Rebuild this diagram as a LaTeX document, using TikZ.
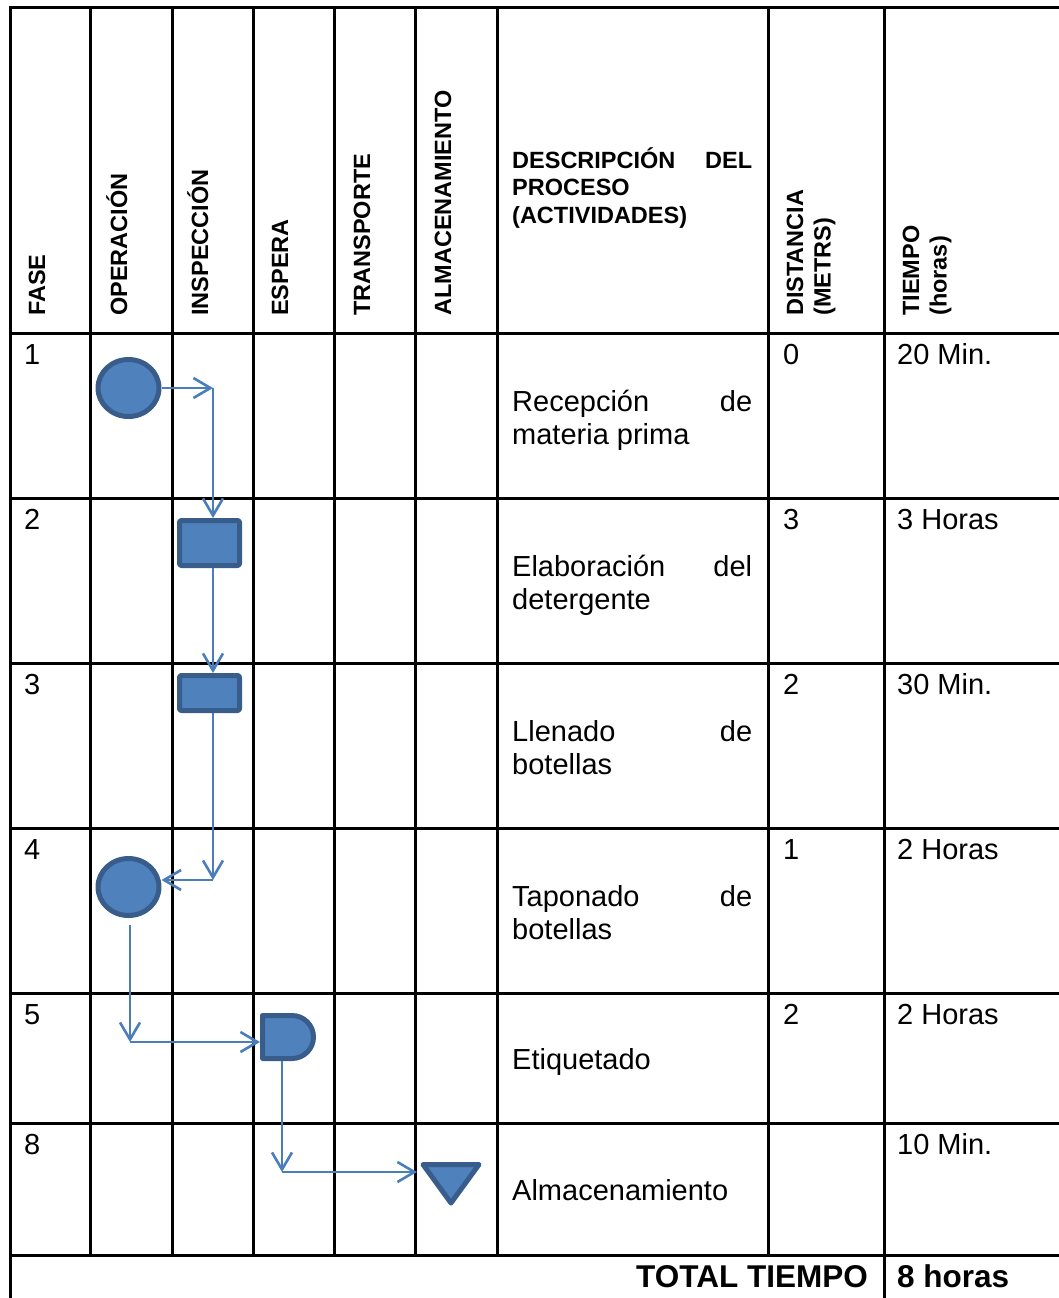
\documentclass[tikz,border=0pt]{standalone}
\usepackage{fontspec}
\setmainfont{Liberation Sans}
\usetikzlibrary{arrows.meta,shapes.geometric,shapes.misc}
\definecolor{FlowFill}{HTML}{4F81BD}
\definecolor{FlowEdge}{HTML}{385D8A}
\definecolor{FlowLine}{HTML}{4A7EBB}
\newcommand\BodyFont{\fontsize{29}{33}\selectfont}
\newcommand\HeadFont{\fontsize{23.5}{27.5}\selectfont\bfseries}
\newcommand\TotalFont{\fontsize{31.5}{36}\selectfont\bfseries}
\newcommand\JLine[3]{\hbox to #1{#2\hfill #3}}
% row index, row top, fase, distancia, tiempo
\newcommand\FaseRow[5]{%
    \node[cell] (fase#1) at (24,{#2+31}) {#3};
    \node[cell] (dist#1) at (783,{#2+31}) {#4};
    \node[cell] (time#1) at (897,{#2+31}) {#5};
}
\tikzset{
    tablerule/.style={line width=3pt, black},
    flowshape/.style={draw=FlowEdge, fill=FlowFill, line width=5pt, line join=round, inner sep=0pt},
    opcircle/.style={flowshape, ellipse, minimum width=61pt, minimum height=57pt},
    inbox/.style={flowshape, rectangle, rounded corners=2pt, minimum width=60pt},
    delaybox/.style={flowshape, rounded rectangle, rounded rectangle west arc=none,
        minimum width=51pt, minimum height=43pt},
    flow/.style={draw=FlowLine, line width=2.6pt, -{Straight Barb[length=17pt,width=20pt]}},
    cell/.style={anchor=base west, inner sep=0pt, font=\BodyFont},
    headtext/.style={anchor=base west, inner sep=0pt, rotate=90, font=\HeadFont},
}

\begin{document}
\begin{tikzpicture}[x=1pt,y=-1pt]
    \useasboundingbox (0,0) rectangle (1059,1298);
    % table
    \draw[tablerule] (10,1298) -- (10,8) -- (1059,8);
    \foreach \y in {333,498,663,828,993,1123,1255}
        \draw[tablerule] (10,\y) -- (1059,\y);
    \foreach \x in {90,172,253,334,415,497,768}
        \draw[tablerule] (\x,8) -- (\x,1255);
    \draw[tablerule] (884,8) -- (884,1298);
    % header
    \node[headtext] (hFase) at (45,316) {FASE};
    \node[headtext] (hOper) at (127,316) {OPERACIÓN};
    \node[headtext] (hInsp) at (208,316) {INSPECCIÓN};
    \node[headtext] (hEsp) at (288,316) {ESPERA};
    \node[headtext] (hTrans) at (370,316) {TRANSPORTE};
    \node[headtext] (hAlm) at (451,316) {ALMACENAMIENTO};
    \node[headtext] (hDist) at (803,316) {\parbox[t]{250pt}{DISTANCIA\\(METRS)}};
    \node[headtext] (hTime) at (919,316) {\parbox[t]{250pt}{TIEMPO\\(horas)}};
    \node[anchor=base west, inner sep=0pt, font=\HeadFont] (hDesc) at (512,168)
        {\parbox[t]{240pt}{\JLine{240pt}{DESCRIPCIÓN}{DEL}PROCESO\\(ACTIVIDADES)}};
    % rows
    \FaseRow{1}{333}{1}{0}{20 Min.}
    \FaseRow{2}{498}{2}{3}{3 Horas}
    \FaseRow{3}{663}{3}{2}{30 Min.}
    \FaseRow{4}{828}{4}{1}{2 Horas}
    \FaseRow{5}{993}{5}{2}{2 Horas}
    \FaseRow{6}{1123}{8}{}{10 Min.}
    \node[cell] (desc1) at (512,411) {\parbox[t]{240pt}{\JLine{240pt}{Recepción}{de}materia prima}};
    \node[cell] (desc2) at (512,576) {\parbox[t]{240pt}{\JLine{240pt}{Elaboración}{del}detergente}};
    \node[cell] (desc3) at (512,741) {\parbox[t]{240pt}{\JLine{240pt}{Llenado}{de}botellas}};
    \node[cell] (desc4) at (512,906) {\parbox[t]{240pt}{\JLine{240pt}{Taponado}{de}botellas}};
    \node[cell] (desc5) at (512,1069) {Etiquetado};
    \node[cell] (desc6) at (512,1200) {Almacenamiento};
    \node[anchor=base east, inner sep=0pt, font=\TotalFont] (total) at (868,1287) {TOTAL TIEMPO};
    \node[anchor=base west, inner sep=0pt, font=\TotalFont] (totalval) at (897,1287) {8 horas};
    % symbols
    \node[opcircle] (op1) at (128.5,388) {};
    \node[inbox, minimum height=45pt] (ins2) at (209.5,543) {};
    \node[inbox, minimum height=35pt] (ins3) at (209.5,693) {};
    \node[opcircle] (op4) at (128.5,887) {};
    \node[delaybox] (esp5) at (288,1037) {};
    \draw[flowshape] (423,1164.5) -- (479,1164.5) -- (451,1203) -- cycle;
    % flow
    \coordinate (bend1) at (213,388);
    \coordinate (bend2) at (213,880);
    \coordinate (bend3) at (130,1042);
    \coordinate (bend4) at (282,1172);
    \coordinate (alm8) at (417,1172);
    \draw[flow] (op1.east) -- (bend1);
    \draw[flow] (bend1) -- (bend1 |- ins2.north);
    \draw[flow] (ins2.south -| bend1) -- (ins3.north -| bend1);
    \draw[flow] (ins3.south -| bend1) -- (bend2);
    \draw[flow] (bend2) -- (bend2 -| op4.east);
    \draw[flow, shorten <=7pt] (op4.south -| bend3) -- (bend3);
    \draw[flow] (bend3) -- (bend3 -| esp5.west);
    \draw[flow] (esp5.south -| bend4) -- (bend4);
    \draw[flow] (bend4) -- (alm8);
\end{tikzpicture}
\end{document}
